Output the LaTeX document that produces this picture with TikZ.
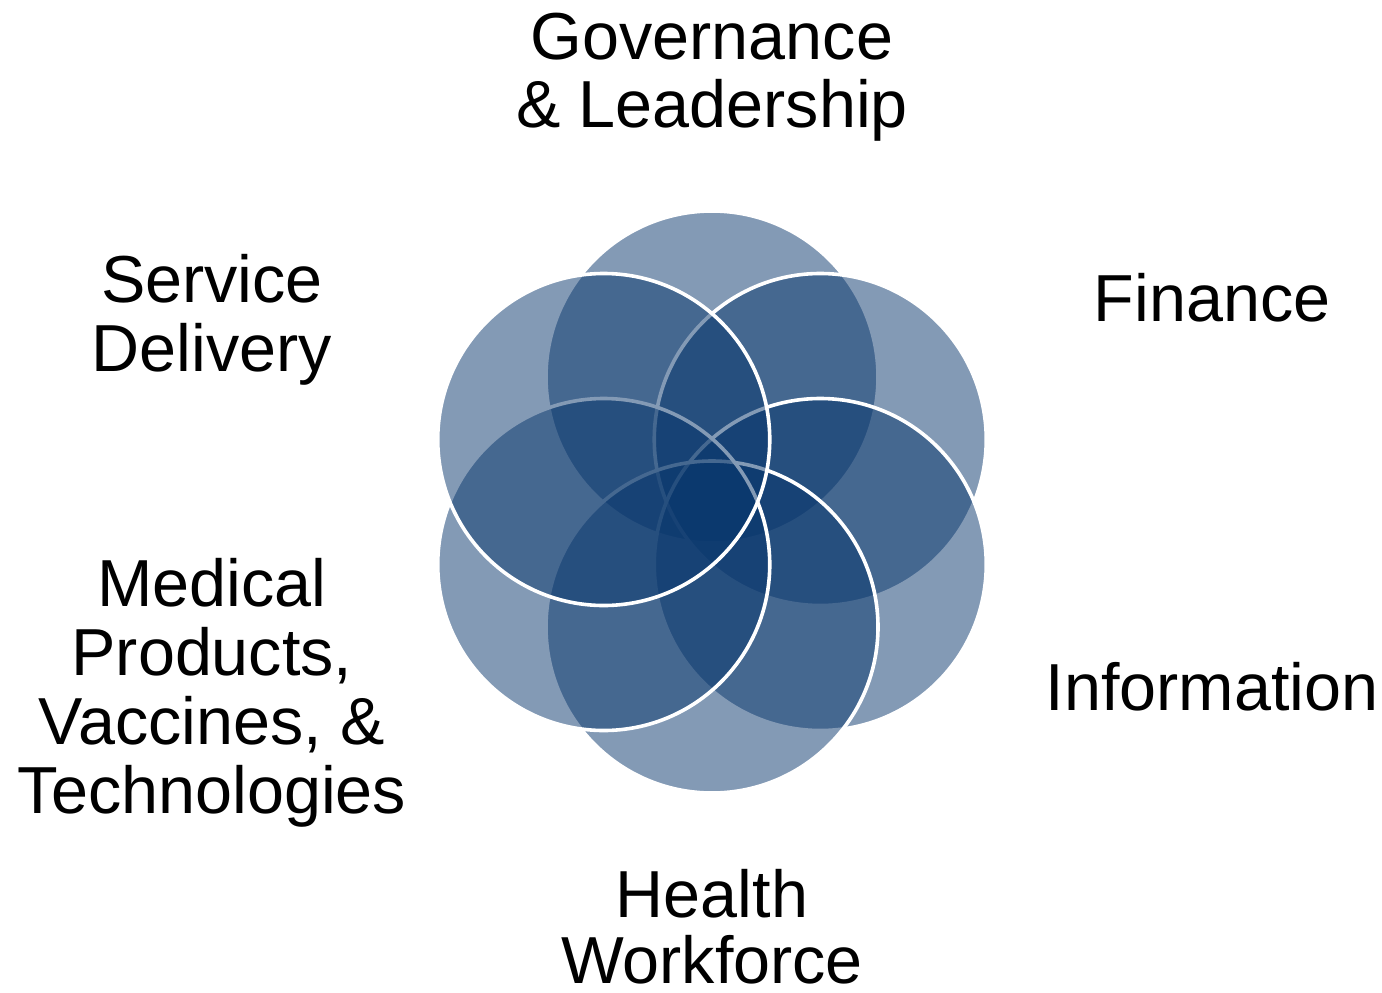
\documentclass[tikz,border=0pt]{standalone}
\usepackage{fontspec}
\setmainfont{Liberation Sans}
\usetikzlibrary{calc}
\definecolor{hsblue}{HTML}{09376D}
\begin{document}
\begin{tikzpicture}[x=1pt,y=-1pt,
  ring/.style={fill=hsblue, fill opacity=0.5, draw=white, draw opacity=1, line width=3.6pt},
  lbl/.style={font=\fontsize{66.5}{68}\selectfont, anchor=base, inner sep=0pt, text=black}]
\useasboundingbox (0,0) rectangle (1382,993);
\fill[white] (0,0) rectangle (1382,993);
\coordinate (c) at (712,502);
% circles, drawn in stacking order: top, upper right, lower right, bottom, lower left, upper left
\foreach \a in {90,30,-30,-90,-150,150}{
  \path[ring] ($(c)+(\a:125pt)$) circle[radius=166pt];
}
% labels
\node[lbl] (gov1) at (712,59) {Governance};
\node[lbl] (gov2) at (712,127) {\& Leadership};
\node[lbl] (fin) at (1212,321) {Finance};
\node[lbl] (inf) at (1212,710) {Information};
\node[lbl] (hw1) at (712,917) {Health};
\node[lbl] (hw2) at (712,983) {Workforce};
\node[lbl] (med1) at (212,606) {Medical};
\node[lbl] (med2) at (212,675) {Products,};
\node[lbl] (med3) at (212,744) {Vaccines, \&};
\node[lbl] (med4) at (212,813) {Technologies};
\node[lbl] (sd1) at (212,302) {Service};
\node[lbl] (sd2) at (212,371) {Delivery};
\end{tikzpicture}
\end{document}
